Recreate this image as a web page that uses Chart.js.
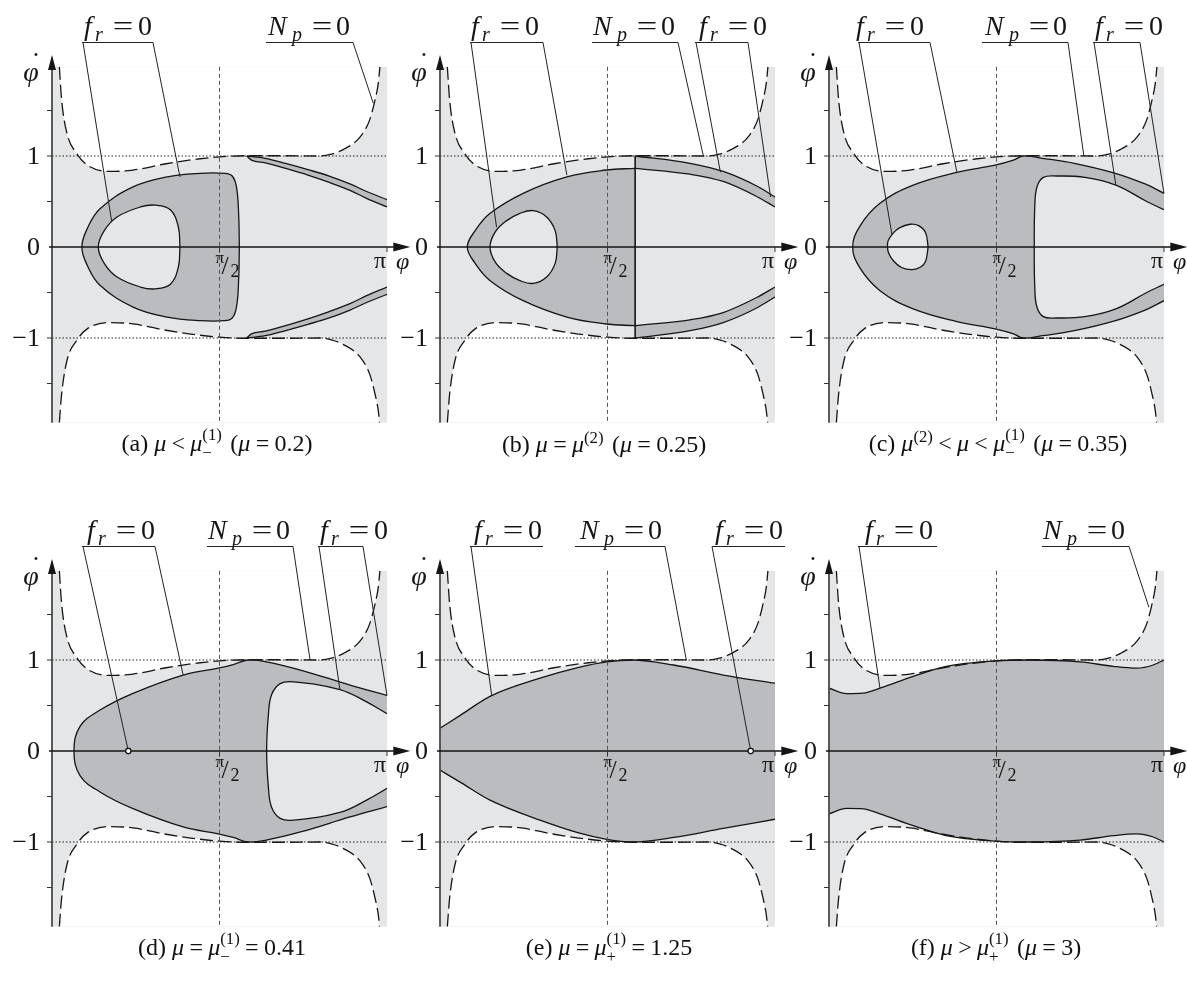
<!DOCTYPE html>
<html>
<head>
<meta charset="utf-8">
<title>Phase portraits</title>
<script src="https://cdn.jsdelivr.net/npm/chart.js@4.4.1/dist/chart.umd.min.js"></script>
<style>
  html, body { margin: 0; background: #fff; }
  body { position: relative; width: 1187px; height: 987px; overflow: hidden;
         font-family: "Liberation Serif", "DejaVu Serif", serif; color: #111; }
  canvas { position: absolute; }
  .cap { position: absolute; transform: translate(-50%, -50%); font-size: 24px;
         white-space: nowrap; line-height: 1; }
  .cap .r { margin: 0 0.22em; }
  .cap .g { margin-left: 0.35em; }
  .cap sup { font-size: 0.7em; vertical-align: 0.55em; line-height: 0; }
  .ss { display: inline-block; vertical-align: -0.4em; font-size: 0.7em; line-height: 1.05; }
  .ss span { display: block; }
</style>
</head>
<body>
<canvas id="pa" width="420" height="440" style="left:0;top:0"></canvas>
<canvas id="pb" width="420" height="440" style="left:390px;top:0"></canvas>
<canvas id="pc" width="420" height="440" style="left:780px;top:0"></canvas>
<canvas id="pd" width="420" height="440" style="left:0;top:504px"></canvas>
<canvas id="pe" width="420" height="440" style="left:390px;top:504px"></canvas>
<canvas id="pf" width="420" height="440" style="left:780px;top:504px"></canvas>

<div class="cap" style="left:217px;top:444px">(a) <i>μ</i><span class="r">&lt;</span><i>μ</i><span class="ss"><span>(1)</span><span>−</span></span><span class="g">(</span><i>μ</i><span class="r">=</span>0.2)</div>
<div class="cap" style="left:604px;top:444px">(b) <i>μ</i><span class="r">=</span><i>μ</i><sup>(2)</sup><span class="g">(</span><i>μ</i><span class="r">=</span>0.25)</div>
<div class="cap" style="left:998px;top:444px">(c) <i>μ</i><sup>(2)</sup><span class="r">&lt;</span><i>μ</i><span class="r">&lt;</span><i>μ</i><span class="ss"><span>(1)</span><span>−</span></span><span class="g">(</span><i>μ</i><span class="r">=</span>0.35)</div>
<div class="cap" style="left:222px;top:948px">(d) <i>μ</i><span class="r">=</span><i>μ</i><span class="ss"><span>(1)</span><span>−</span></span><span class="r">=</span>0.41</div>
<div class="cap" style="left:609px;top:948px">(e) <i>μ</i><span class="r">=</span><i>μ</i><span class="ss"><span>(1)</span><span>+</span></span><span class="r">=</span>1.25</div>
<div class="cap" style="left:996px;top:948px">(f) <i>μ</i><span class="r">&gt;</span><i>μ</i><span class="ss"><span>(1)</span><span>+</span></span><span class="g">(</span><i>μ</i><span class="r">=</span>3)</div>

<script>
const PI = Math.PI;
const Y_MIN = -1.93, Y_MAX = 1.98;

// axis ticks
const yTickValues = [1, 0, -1];
const yTickLabels = ['1', '0', '\u22121'];
const yMinorTicks = [-1.5, -1, -0.5, 0.5, 1, 1.5];
const xTickValues = [PI / 2, PI];

// N_p = 0 (dashed), same for every mu
const npUpper = [[0.069, 1.98], [0.09, 1.62], [0.14, 1.25], [0.23, 1.03], [0.33, 0.90], [0.54, 0.83],
  [0.76, 0.845], [1.07, 0.915], [1.39, 0.97], [1.57, 0.99], [1.83, 1.003], [2.17, 1.003], [2.51, 1.0],
  [2.62, 1.02], [2.73, 1.07], [2.89, 1.21], [2.98, 1.40], [3.03, 1.62], [3.06, 1.80], [3.075, 1.98]];
const npLower = [[0.069, -1.93], [0.09, -1.62], [0.14, -1.25], [0.23, -1.03], [0.33, -0.90], [0.54, -0.83],
  [0.76, -0.845], [1.07, -0.915], [1.39, -0.97], [1.57, -0.99], [1.83, -1.003], [2.17, -1.003], [2.51, -1.0],
  [2.62, -1.02], [2.73, -1.07], [2.89, -1.21], [2.98, -1.40], [3.03, -1.62], [3.06, -1.80], [3.072, -1.93]];

// (a) mu = 0.2
const aOuter = [[1.757, 0], [1.75, 0.37], [1.73, 0.66], [1.69, 0.78], [1.62, 0.81], [1.39, 0.81], [1.08, 0.77],
  [0.76, 0.66], [0.45, 0.42], [0.33, 0.2], [0.28, 0], [0.33, -0.2], [0.45, -0.42], [0.76, -0.66], [1.08, -0.77],
  [1.39, -0.81], [1.62, -0.81], [1.69, -0.78], [1.73, -0.66], [1.75, -0.37], [1.757, 0]];
const aHole = [[1.2, 0], [1.185, 0.22], [1.11, 0.41], [0.97, 0.46], [0.83, 0.44], [0.61, 0.33], [0.49, 0.18],
  [0.434, 0], [0.49, -0.18], [0.61, -0.33], [0.83, -0.44], [0.97, -0.46], [1.11, -0.41], [1.185, -0.22], [1.2, 0]];
const aBandTopOuter = [[1.826, 1.0], [2.0, 0.975], [2.2, 0.915], [2.4, 0.85], [2.6, 0.78], [2.8, 0.69], [2.95, 0.61], [PI, 0.52]];
const aBandTopInner = [[1.826, 1.0], [1.87, 0.955], [2.0, 0.925], [2.2, 0.86], [2.4, 0.79], [2.6, 0.71], [2.8, 0.62], [2.95, 0.535], [PI, 0.44]];
const aBandBotOuter = [[1.826, -1.0], [2.0, -0.975], [2.2, -0.915], [2.4, -0.85], [2.6, -0.78], [2.8, -0.69], [2.95, -0.61], [PI, -0.52]];
const aBandBotInner = [[1.826, -1.0], [1.87, -0.955], [2.0, -0.925], [2.2, -0.86], [2.4, -0.79], [2.6, -0.71], [2.8, -0.62], [2.95, -0.535], [PI, -0.44]];

// (b) mu = 0.25
const bLeft = [[1.83, 0.865], [1.56, 0.846], [1.19, 0.77], [0.78, 0.59], [0.47, 0.37], [0.33, 0.18], [0.256, 0],
  [0.33, -0.18], [0.47, -0.37], [0.78, -0.59], [1.19, -0.77], [1.56, -0.846], [1.83, -0.865]];
const bHole = [[1.10, 0], [1.08, 0.18], [1.0, 0.33], [0.875, 0.40], [0.75, 0.37], [0.626, 0.29], [0.52, 0.17],
  [0.469, 0], [0.52, -0.17], [0.626, -0.29], [0.75, -0.37], [0.875, -0.40], [1.0, -0.33], [1.08, -0.18], [1.10, 0]];
const bRightUpper = [[1.83, 0.865], [2.345, 0.80], [2.656, 0.72], [2.97, 0.555], [PI, 0.44]];
const bRightLower = [[1.83, -0.865], [2.345, -0.80], [2.656, -0.72], [2.97, -0.555], [PI, -0.44]];
const bBandTop = [[1.83, 1.0], [2.345, 0.92], [2.656, 0.83], [2.97, 0.67], [PI, 0.55]];
const bBandBot = [[1.83, -1.0], [2.345, -0.92], [2.656, -0.83], [2.97, -0.67], [PI, -0.55]];
const bSplit = [[1.83, 1.0], [1.83, -1.0]];

// (c) mu = 0.35
const cOuter = [[PI, 0.59], [2.97, 0.69], [2.67, 0.815], [2.3, 0.92], [2.0, 0.975], [1.82, 1.0], [1.73, 0.955],
  [1.557, 0.90], [1.2, 0.82], [0.79, 0.68], [0.478, 0.48], [0.29, 0.23], [0.222, 0], [0.29, -0.23], [0.478, -0.48],
  [0.79, -0.68], [1.2, -0.82], [1.557, -0.90], [1.73, -0.955], [1.82, -1.0], [2.0, -0.975], [2.3, -0.92],
  [2.67, -0.815], [2.97, -0.69], [PI, -0.59]];
const cHole = [[0.93, 0], [0.905, 0.16], [0.84, 0.235], [0.76, 0.25], [0.66, 0.21], [0.60, 0.15], [0.555, 0.07],
  [0.548, 0], [0.56, -0.07], [0.60, -0.146], [0.68, -0.225], [0.78, -0.248], [0.86, -0.22], [0.905, -0.16], [0.93, 0]];
const cHoleRight = [[PI, 0.41], [2.98, 0.50], [2.69, 0.68], [2.4, 0.765], [2.135, 0.78], [2.01, 0.765], [1.95, 0.66],
  [1.93, 0.45], [1.925, 0], [1.93, -0.45], [1.95, -0.66], [2.01, -0.765], [2.135, -0.78], [2.4, -0.765],
  [2.69, -0.68], [2.98, -0.50], [PI, -0.41]];

// (d) mu = 0.41
const dOuter = [[PI, 0.61], [2.795, 0.725], [2.33, 0.89], [2.01, 0.98], [1.84, 1.0], [1.70, 0.95], [1.56, 0.91],
  [1.23, 0.835], [0.76, 0.634], [0.45, 0.45], [0.263, 0.27], [0.206, 0], [0.263, -0.27], [0.45, -0.45],
  [0.76, -0.634], [1.23, -0.835], [1.56, -0.91], [1.70, -0.95], [1.84, -1.0], [2.01, -0.98], [2.33, -0.89],
  [2.795, -0.725], [PI, -0.61]];
const dHoleRight = [[PI, 0.41], [2.95, 0.54], [2.70, 0.675], [2.263, 0.76], [2.14, 0.74], [2.06, 0.62], [2.03, 0.41],
  [2.013, 0], [2.03, -0.41], [2.06, -0.62], [2.14, -0.74], [2.263, -0.76], [2.70, -0.675], [2.95, -0.54], [PI, -0.41]];
const dPoint = [[0.716, 0]];

// (e) mu = 1.25
const eUpper = [[0, 0.25], [0.2, 0.40], [0.469, 0.60], [0.938, 0.80], [1.3, 0.92], [1.563, 0.98], [1.81, 1.0],
  [2.19, 0.945], [2.656, 0.835], [PI, 0.745]];
const eLower = [[0, -0.21], [0.2, -0.35], [0.469, -0.54], [0.938, -0.76], [1.3, -0.9], [1.563, -0.97], [1.81, -1.0],
  [2.19, -0.95], [2.656, -0.85], [PI, -0.75]];
const ePoint = [[2.914, 0]];

// (f) mu = 3
const fUpper = [[0, 0.69], [0.166, 0.63], [0.32, 0.635], [0.478, 0.69], [0.79, 0.82], [1.10, 0.93], [1.557, 0.99],
  [1.885, 1.0], [2.354, 0.98], [2.667, 0.93], [2.885, 0.91], [3.04, 0.945], [PI, 1.0]];
const fLower = [[0, -0.69], [0.166, -0.63], [0.32, -0.635], [0.478, -0.69], [0.79, -0.82], [1.10, -0.93], [1.557, -0.99],
  [1.885, -1.0], [2.354, -0.98], [2.667, -0.93], [2.885, -0.91], [3.04, -0.945], [PI, -1.0]];

const LIGHT = '#e5e6e8', DARK = '#bbbcc0', INK = '#151515', NONE = 'rgba(0,0,0,0)';
const SERIF = '"Liberation Serif", "DejaVu Serif", serif';

const pts = a => a.map(([x, y]) => ({x, y}));

function curve(data, extra) {
  return Object.assign({
    data: pts(data), borderColor: INK, borderWidth: 1.3, borderJoinStyle: 'round',
    pointRadius: 0, fill: false, tension: 0.4, order: 6
  }, extra);
}

// white caps above/below N_p = 0 plus the dashed curves themselves
function addNp(ds) {
  const mono = {cubicInterpolationMode: 'monotone'};
  ds.push(curve(npUpper, {...mono, fill: 'end', backgroundColor: '#fff', borderColor: NONE, order: 20}));
  ds.push(curve(npLower, {...mono, fill: 'start', backgroundColor: '#fff', borderColor: NONE, order: 20}));
  ds.push(curve(npUpper, {...mono, borderDash: [13, 5], order: 2}));
  ds.push(curve(npLower, {...mono, borderDash: [13, 5], order: 2}));
}
function addLoop(ds, data, color, order) {
  ds.push(curve(data, {fill: 'shape', backgroundColor: color, order}));
}
// the second edge is drawn after the fill so its stroke stays whole
function addBetween(ds, a, b, color, order) {
  const i = ds.length;
  ds.push(curve(a, {cubicInterpolationMode: 'monotone', fill: i + 1, backgroundColor: color, order}));
  ds.push(curve(b, {cubicInterpolationMode: 'monotone', order: order - 0.5}));
}
function addMarker(ds, data) {
  ds.push(curve(data, {showLine: false, pointRadius: 2.6, pointBorderWidth: 1.1, pointBackgroundColor: '#fff',
    pointBorderColor: INK, order: 0, marker: true}));
}

const SYMBOLS = {
  f: {main: 'f', sub: 'r', mainAt: 2, subAt: 13, eqAt: 41, zeroAt: 56},
  N: {main: 'N', sub: 'p', mainAt: 0, subAt: 24, eqAt: 54, zeroAt: 68}
};

function drawSymbol(ctx, kind, x, base) {
  const s = SYMBOLS[kind];
  ctx.textAlign = 'left';
  ctx.textBaseline = 'alphabetic';
  ctx.font = `italic 28px ${SERIF}`;
  ctx.fillText(s.main, x + s.mainAt, base);
  ctx.font = `italic 20px ${SERIF}`;
  ctx.fillText(s.sub, x + s.subAt, base + 6);
  ctx.font = `28px ${SERIF}`;
  ctx.save();
  ctx.translate(x + s.eqAt, base);
  ctx.scale(1.3, 1);
  ctx.textAlign = 'center';
  ctx.fillText('=', 0, 0);
  ctx.restore();
  ctx.fillText('0', x + s.zeroAt, base);
}

const decor = {
  id: 'decor',
  beforeDatasetsDraw(chart) {
    const {ctx, chartArea: a} = chart;
    ctx.save();
    ctx.fillStyle = LIGHT;
    ctx.fillRect(a.left, a.top, a.right - a.left, a.bottom - a.top);
    ctx.restore();
  },
  afterDatasetsDraw(chart, args, opts) {
    const {ctx, scales: {x, y}} = chart;
    const X = v => x.getPixelForValue(v), Y = v => y.getPixelForValue(v);
    const x0 = X(0), yz = Y(0);
    ctx.save();

    // guide lines at +-1 and pi/2
    ctx.lineWidth = 1;
    ctx.strokeStyle = '#222';
    ctx.setLineDash([1.5, 2]);
    for (const v of [1, -1]) {
      ctx.beginPath(); ctx.moveTo(x0, Y(v)); ctx.lineTo(X(PI), Y(v)); ctx.stroke();
    }
    ctx.strokeStyle = '#555';
    ctx.setLineDash([4, 3]);
    ctx.beginPath(); ctx.moveTo(X(PI / 2), Y(Y_MAX)); ctx.lineTo(X(PI / 2), Y(Y_MIN)); ctx.stroke();
    ctx.setLineDash([]);

    // vertical axis with arrow
    ctx.strokeStyle = '#4a4a4a';
    ctx.lineWidth = 1.8;
    ctx.beginPath(); ctx.moveTo(x0, Y(Y_MIN)); ctx.lineTo(x0, Y(2.0)); ctx.stroke();
    ctx.fillStyle = INK;
    const tipY = Y(2.11);
    ctx.beginPath(); ctx.moveTo(x0, tipY); ctx.lineTo(x0 - 4, tipY + 15); ctx.lineTo(x0 + 4, tipY + 15); ctx.closePath(); ctx.fill();

    // horizontal axis with arrow
    ctx.strokeStyle = INK;
    ctx.lineWidth = 1.4;
    const tipX = X(3.36);
    ctx.beginPath(); ctx.moveTo(x0 - 3, yz); ctx.lineTo(tipX - 10, yz); ctx.stroke();
    ctx.beginPath(); ctx.moveTo(tipX, yz); ctx.lineTo(tipX - 17, yz - 4.5); ctx.lineTo(tipX - 17, yz + 4.5); ctx.closePath(); ctx.fill();

    // ticks
    ctx.lineWidth = 1;
    ctx.strokeStyle = '#333';
    ctx.beginPath();
    for (const v of yMinorTicks) { ctx.moveTo(x0 - 5, Y(v)); ctx.lineTo(x0, Y(v)); }
    for (const v of xTickValues) { ctx.moveTo(X(v), yz); ctx.lineTo(X(v), yz + 5); }
    ctx.stroke();

    // tick labels
    ctx.fillStyle = INK;
    ctx.font = `26px ${SERIF}`;
    ctx.textAlign = 'right';
    ctx.textBaseline = 'middle';
    yTickValues.forEach((v, i) => ctx.fillText(yTickLabels[i], x0 - 12, Y(v) + 1));

    ctx.textAlign = 'left';
    ctx.textBaseline = 'alphabetic';
    const ph = X(PI / 2);
    ctx.font = `17px ${SERIF}`;
    ctx.fillText('π', ph - 4, yz + 16);
    ctx.font = `26px ${SERIF}`;
    ctx.fillText('/', ph + 2, yz + 27);
    ctx.font = `18px ${SERIF}`;
    ctx.fillText('2', ph + 11, yz + 30);

    ctx.font = `24px ${SERIF}`;
    ctx.textAlign = 'center';
    ctx.fillText('π', X(PI) - 7, yz + 21);
    ctx.font = `italic 24px ${SERIF}`;
    ctx.textAlign = 'left';
    ctx.fillText('φ', X(PI) + 9, yz + 22);

    // phi-dot label of the vertical axis
    ctx.textAlign = 'center';
    ctx.font = `italic 28px ${SERIF}`;
    ctx.fillText('φ', x0 - 21, Y(2) + 16);
    ctx.font = `28px ${SERIF}`;
    ctx.fillText('\u02D9', x0 - 16, Y(2) + 6);

    // callouts
    ctx.strokeStyle = '#222';
    ctx.lineWidth = 1;
    const lineY = 42.5;
    for (const n of opts.notes) {
      drawSymbol(ctx, n.kind, n.x, 35);
      ctx.beginPath();
      ctx.moveTo(n.line[0], lineY); ctx.lineTo(n.line[1], lineY);
      for (const [fx, dx, dy] of n.to) { ctx.moveTo(fx, lineY); ctx.lineTo(X(dx), Y(dy)); }
      ctx.stroke();
    }

    // points sitting on the axis go on top of it
    chart.data.datasets.forEach((d, i) => {
      if (d.marker) chart.getDatasetMeta(i).data.forEach(p => p.draw(ctx, chart.chartArea));
    });
    ctx.restore();
  }
};

function makePanel(id, axisLeft, datasets, notes) {
  const canvas = document.getElementById(id);
  const W = canvas.width, H = canvas.height;
  const top = 247 - Y_MAX * 91, bottom = 247 - Y_MIN * 91;
  return new Chart(canvas, {
    type: 'line',
    data: {datasets},
    options: {
      responsive: false,
      animation: false,
      events: [],
      layout: {padding: {left: axisLeft, right: W - axisLeft - 335, top, bottom: H - bottom}},
      scales: {
        x: {type: 'linear', min: 0, max: PI, display: false},
        y: {type: 'linear', min: Y_MIN, max: Y_MAX, display: false}
      },
      plugins: {legend: {display: false}, tooltip: {enabled: false}, decor: {notes}}
    },
    plugins: [decor]
  });
}

// (a)
let ds = [];
addNp(ds);
addLoop(ds, aOuter, DARK, 10);
addLoop(ds, aHole, LIGHT, 9);
addBetween(ds, aBandTopOuter, aBandTopInner, DARK, 10);
addBetween(ds, aBandBotOuter, aBandBotInner, DARK, 10);
makePanel('pa', 52, ds, [
  {kind: 'f', x: 82, line: [82, 153], to: [[83, 0.56, 0.28], [153, 1.2, 0.77]]},
  {kind: 'N', x: 268, line: [266, 353], to: [[353, 3.013, 1.58]]}
]);

// (b)
ds = [];
addNp(ds);
addLoop(ds, bLeft, DARK, 10);
addLoop(ds, bHole, LIGHT, 9);
const bRight = ds.length;
ds.push(curve(bRightUpper, {cubicInterpolationMode: 'monotone', fill: bRight + 1, backgroundColor: LIGHT, order: 9}));
ds.push(curve(bRightLower, {cubicInterpolationMode: 'monotone', order: 8.5}));
ds.push(curve(bBandTop, {cubicInterpolationMode: 'monotone', fill: bRight, backgroundColor: DARK, order: 10}));
ds.push(curve(bBandBot, {cubicInterpolationMode: 'monotone', fill: bRight + 1, backgroundColor: DARK, order: 10}));
ds.push(curve(bSplit, {tension: 0, borderWidth: 1.6, order: 8}));
makePanel('pb', 50, ds, [
  {kind: 'f', x: 79, line: [80, 153], to: [[81, 0.53, 0.22], [153, 1.19, 0.79]]},
  {kind: 'N', x: 203, line: [202, 288], to: [[288, 2.47, 1.0]]},
  {kind: 'f', x: 307, line: [305, 358], to: [[306, 2.63, 0.82], [358, 3.1, 0.55]]}
]);

// (c)
ds = [];
addNp(ds);
addLoop(ds, cOuter, DARK, 10);
addLoop(ds, cHole, LIGHT, 9);
addLoop(ds, cHoleRight, LIGHT, 9);
makePanel('pc', 49, ds, [
  {kind: 'f', x: 74, line: [78, 150], to: [[79, 0.59, 0.14], [150, 1.2, 0.82]]},
  {kind: 'N', x: 205, line: [202, 288], to: [[288, 2.39, 1.0]]},
  {kind: 'f', x: 313, line: [313, 360], to: [[314, 2.69, 0.68], [360, PI, 0.59]]}
]);

// (d)
ds = [];
addNp(ds);
addLoop(ds, dOuter, DARK, 10);
addLoop(ds, dHoleRight, LIGHT, 9);
addMarker(ds, dPoint);
makePanel('pd', 52, ds, [
  {kind: 'f', x: 85, line: [82, 155], to: [[83, 0.716, 0], [155, 1.23, 0.835]]},
  {kind: 'N', x: 208, line: [207, 293], to: [[293, 2.42, 1.0]]},
  {kind: 'f', x: 318, line: [318, 363], to: [[319, 2.70, 0.675], [363, PI, 0.61]]}
]);

// (e)
ds = [];
addNp(ds);
addBetween(ds, eUpper, eLower, DARK, 10);
addMarker(ds, ePoint);
makePanel('pe', 50, ds, [
  {kind: 'f', x: 82, line: [80, 153], to: [[81, 0.485, 0.61]]},
  {kind: 'N', x: 190, line: [185, 275], to: [[275, 2.31, 1.0]]},
  {kind: 'f', x: 323, line: [322, 395], to: [[322, 2.914, 0]]}
]);

// (f)
ds = [];
addNp(ds);
addBetween(ds, fUpper, fLower, DARK, 10);
makePanel('pf', 49, ds, [
  {kind: 'f', x: 83, line: [78, 157], to: [[79, 0.478, 0.69]]},
  {kind: 'N', x: 263, line: [262, 349], to: [[349, 3.0, 1.58]]}
]);
</script>
</body>
</html>
